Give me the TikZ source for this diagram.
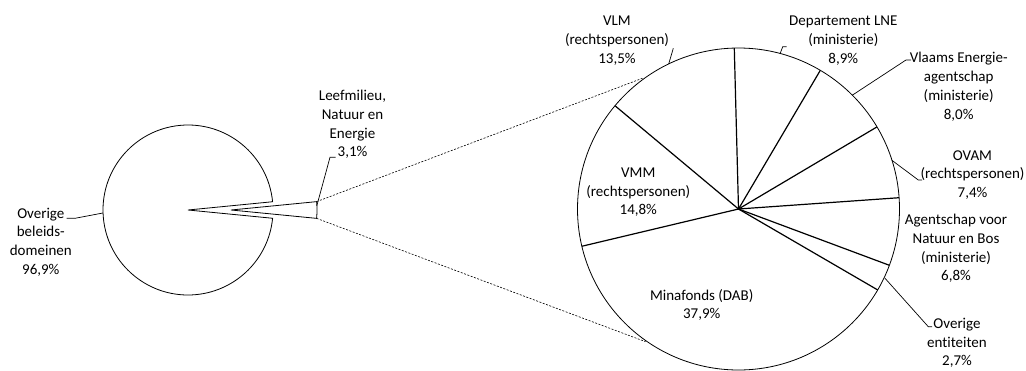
\documentclass[tikz,border=0pt]{standalone}
\usepackage{fontspec}
\setmainfont{Carlito}[Ligatures={NoCommon}]
\usetikzlibrary{calc}
\begin{document}
\begin{tikzpicture}[x=1pt,y=-1pt,
  lbl/.style={align=center, inner sep=0pt, font=\fontsize{15}{18.7}\selectfont},
  rim/.style={line width=0.8pt},
  spoke/.style={line width=1.2pt},
  leader/.style={line width=0.7pt},
  zoomline/.style={line width=0.6pt, dash pattern=on 2pt off 1.5pt}]
\useasboundingbox (0,0) rectangle (1026,370);

% small pie
\coordinate (S) at (188,210);
\coordinate (W) at (231,210);
\draw[rim] (S) -- ++(5.58:85pt) arc[start angle=5.58, end angle=354.42, radius=85pt] -- cycle;
\draw[rim] (W) -- ++(5.58:86pt) coordinate (Wt) arc[start angle=5.58, end angle=-5.58, radius=86pt] coordinate (Wb) -- cycle;

% big pie
\coordinate (B) at (738.5,209);
\draw[rim] (B) circle[radius=161pt];
\foreach \a in {91.5,59.46,30.66,4.02,-20.46,-30.18,-166.62,140.1}
  \draw[spoke] (B) -- ++(\a:161pt);

% connecting dashed lines
\coordinate (Bt) at ($(B)+(126:162pt)$);
\coordinate (Bb) at ($(B)+(-125:162pt)$);
\draw[zoomline] (Wt) -- (Bt);
\draw[zoomline] (Wb) -- (Bb);

% labels
\node[lbl] (Lov) at (40.8,242) {Overige\\beleids-\\domeinen\\96,9\%};
\node[lbl] (Lle) at (352.5,124.6) {Leefmilieu,\\Natuur en\\Energie\\3,1\%};
\node[lbl] (Lvlm) at (617,40.8) {VLM\\(rechtspersonen)\\13,5\%};
\node[lbl] (Llne) at (843.3,40.6) {Departement LNE\\(ministerie)\\8,9\%};
\node[lbl] (Lvea) at (958.7,86.7) {Vlaams Energie-\\agentschap\\(ministerie)\\8,0\%};
\node[lbl] (Lovam) at (972.5,175) {OVAM\\(rechtspersonen)\\7,4\%};
\node[lbl] (Lanb) at (956,248.4) {Agentschap voor\\Natuur en Bos\\(ministerie)\\6,8\%};
\node[lbl] (Loe) at (957,343) {Overige\\entiteiten\\2,7\%};
\node[lbl] (Lvmm) at (638.3,192.4) {VMM\\(rechtspersonen)\\14,8\%};
\node[lbl] (Lmin) at (701.7,305) {Minafonds (DAB)\\37,9\%};

% leader lines
\coordinate (ovT) at (66.5,218.3);
\coordinate (ovP) at ($(S)+(182:85pt)$);
\draw[leader] (ovT) -- ++(8.5,0) -- (ovP);
\coordinate (leT) at (335.5,157.3);
\coordinate (leP) at ($(W)+(3:86pt)$);
\draw[leader] (leT) -- ++(-5.5,0) -- (leP);
\coordinate (vlmT) at (673.3,48.3);
\coordinate (vlmP) at ($(B)+(115.7:161pt)$);
\draw[leader] (vlmT) -- (vlmP);
\coordinate (lneT) at (786.7,46.7);
\coordinate (lneP) at ($(B)+(75:161pt)$);
\draw[leader] (lneT) -- ++(-4,0) -- (lneP);
\coordinate (veaT) at (911,60);
\coordinate (veaP) at ($(B)+(45:161pt)$);
\draw[leader] (veaT) -- ++(-5,0) -- (veaP);
\coordinate (ovamT) at (922,180);
\coordinate (ovamP) at ($(B)+(17.6:161pt)$);
\draw[leader] (ovamT) -- ++(-3.7,0) -- (ovamP);
\coordinate (oeT) at (932,326.7);
\coordinate (oeP) at ($(B)+(-25.3:162pt)$);
\draw[leader] (oeT) -- ++(-3.7,0) -- (oeP);
\end{tikzpicture}
\end{document}
